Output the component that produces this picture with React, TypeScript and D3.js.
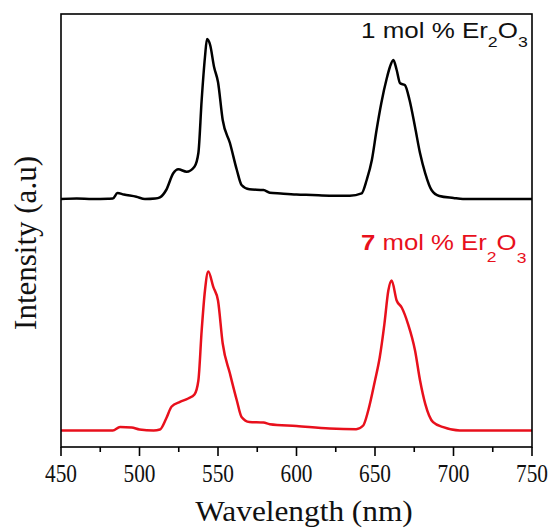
import React from "react";
import * as d3 from "d3";

const wavelengths1 = [450, 460, 470, 480, 483, 486, 490, 498, 503.5, 510, 513, 517, 521.5, 524.7, 530, 535, 537.5, 539.6, 541.7, 543, 545, 547.5, 550, 553, 557.6, 562, 565, 570, 579, 583, 590, 600, 610, 621, 634, 641.5, 644.7, 648, 651, 654, 657.5, 659.5, 661.7, 663.8, 666, 669, 672, 675.5, 678.7, 682, 686, 691, 700, 706, 750];
const intensity1 = [0, 0.5, 0, 0.3, 0.5, 6, 4.5, 2.3, 0, 0.5, 1.7, 9, 25.7, 29.7, 27.3, 32.3, 46, 99, 142, 160, 154, 132, 117, 79, 56, 29, 14, 9.7, 9, 6.3, 5.5, 4.5, 4, 3.3, 3.3, 5.7, 19, 39, 69, 95.7, 120.7, 132, 139, 129, 115.7, 114, 99, 72, 45.7, 25.7, 9, 3, 1, 0, 0];

const wavelengths7 = [450, 470, 483, 487.6, 495, 500, 509, 513, 517, 520.5, 525.8, 531, 535, 537.5, 539.6, 541.7, 543.8, 547, 550, 553, 557.6, 562, 565, 570, 579, 583, 600, 621, 638, 642.5, 645.7, 650, 653, 656, 658.5, 660.6, 663.8, 667, 671, 675.5, 678.7, 682, 687, 693.5, 704, 750];
const intensity7 = [0, 0, 0, 3.6, 3, 1, 0, 1, 12, 24, 28.6, 32, 36, 50, 100, 140, 159, 143.6, 130, 87, 57, 30, 13.6, 8.6, 8, 6.3, 4.5, 2, 1.3, 5, 20, 50, 73, 106.7, 140, 150, 130, 123, 106.7, 80, 50, 26.7, 8.3, 3.3, 0, 0];

const offset1 = 248;
const offset7 = 16.5;

const xTicks = [450, 500, 550, 600, 650, 700, 750];
const xMinorTicks = [475, 525, 575, 625, 675, 725];

const W = 551;
const H = 528;
const left = 61;
const right = 532;
const top = 14;
const bottom = 447;

export default function App() {
  const x = d3.scaleLinear().domain([450, 750]).range([left, right]);
  const y = d3.scaleLinear().domain([0, 433]).range([bottom, top]);

  const line = d3
    .line<[number, number]>()
    .x((d) => x(d[0]))
    .y((d) => y(d[1]))
    .curve(d3.curveMonotoneX);

  const d1 = line(wavelengths1.map((w, i) => [w, intensity1[i] + offset1]) as [number, number][]) || "";
  const d7 = line(wavelengths7.map((w, i) => [w, intensity7[i] + offset7]) as [number, number][]) || "";

  const red = "#e8101c";
  const serif = "'Liberation Serif', 'Times New Roman', serif";
  const sans = "'Liberation Sans', Arial, sans-serif";

  return (
    <svg width={W} height={H} style={{ position: "absolute", left: 0, top: 0, background: "#fff" }}>
      <rect x={0} y={0} width={W} height={H} fill="#fff" />
      <path d={d1} fill="none" stroke="#000" strokeWidth={2.5} strokeLinejoin="round" />
      <path d={d7} fill="none" stroke={red} strokeWidth={2.5} strokeLinejoin="round" />
      <rect x={left} y={top} width={right - left} height={bottom - top} fill="none" stroke="#000" strokeWidth={1.6} />
      {xTicks.map((t) => (
        <g key={t}>
          <line x1={x(t)} x2={x(t)} y1={bottom} y2={bottom + 9} stroke="#000" strokeWidth={1.6} />
          <text
            transform={`translate(${x(t)}, 482) scale(0.87, 1)`}
            textAnchor="middle"
            fontFamily={serif}
            fontSize={24.5}
            fill="#111"
          >
            {t}
          </text>
        </g>
      ))}
      {xMinorTicks.map((t) => (
        <line key={t} x1={x(t)} x2={x(t)} y1={bottom} y2={bottom + 5} stroke="#000" strokeWidth={1.6} />
      ))}
      <text
        transform={`translate(${304}, 521) scale(1.08, 1)`}
        textAnchor="middle"
        fontFamily={serif}
        fontSize={29}
        fill="#111"
      >
        Wavelength (nm)
      </text>
      <text
        transform={`translate(36, 243) rotate(-90)`}
        textAnchor="middle"
        fontFamily={serif}
        fontSize={31}
        fill="#111"
      >
        Intensity (a.u)
      </text>
      <text transform="translate(361, 38) scale(1.18, 1)" fontFamily={sans} fontSize={22} fill="#111">
        1 mol % Er
        <tspan fontSize={15} dy={9}>2</tspan>
        <tspan dy={-9}>O</tspan>
        <tspan fontSize={15} dy={9}>3</tspan>
      </text>
      <text transform="translate(361, 250) scale(1.17, 1)" fontFamily={sans} fontSize={22} fill={red}>
        <tspan fontWeight="bold">7</tspan> mol % Er
        <tspan fontSize={15} dy={12}>2</tspan>
        <tspan dy={-12}>O</tspan>
        <tspan fontSize={15} dy={13}>3</tspan>
      </text>
    </svg>
  );
}
